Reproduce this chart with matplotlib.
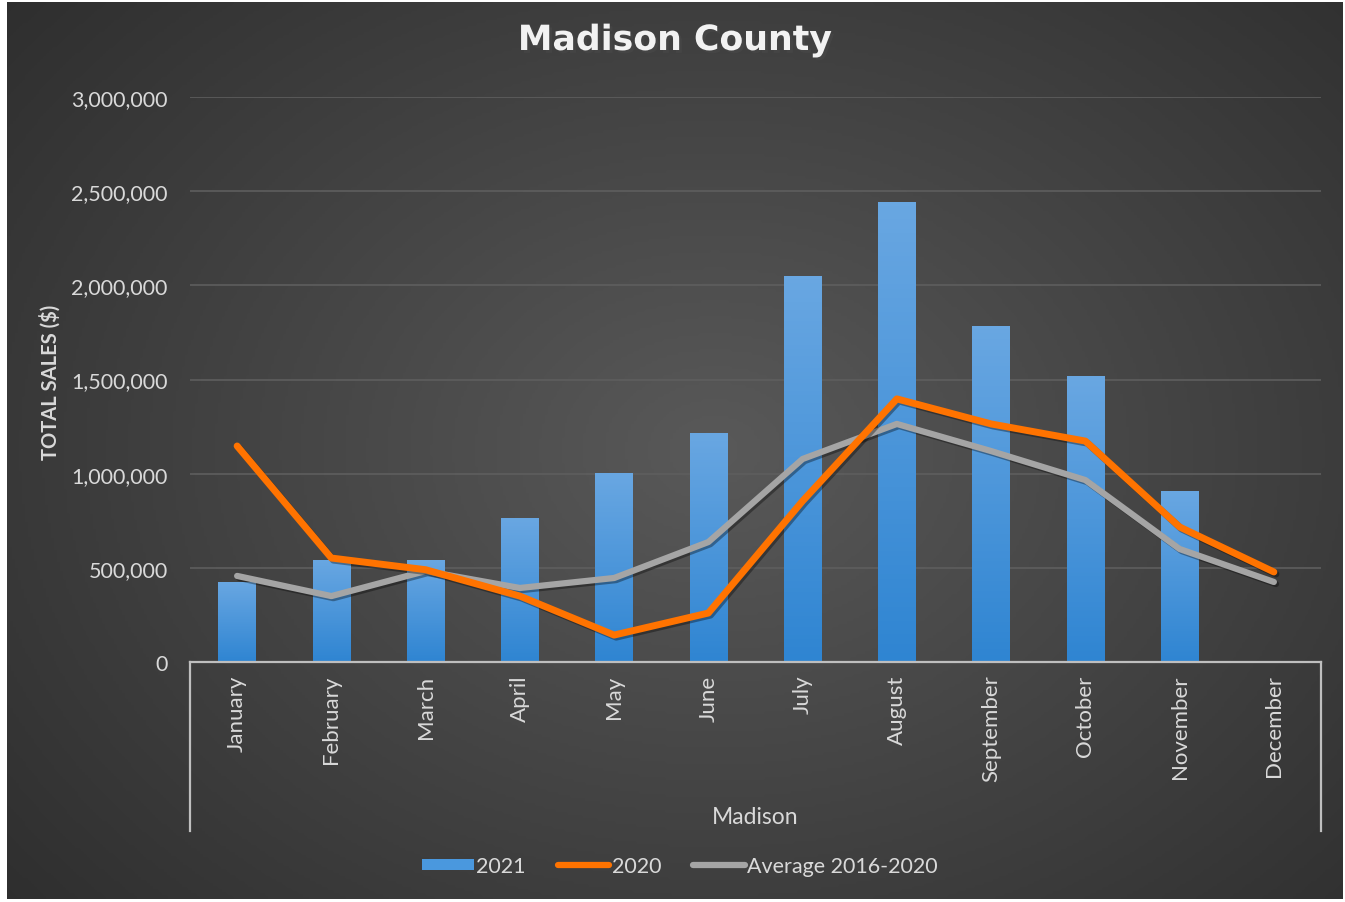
import numpy as np
import matplotlib
matplotlib.use("Agg")
import matplotlib.pyplot as plt
import matplotlib.patheffects as pe
from matplotlib.colors import LinearSegmentedColormap
from matplotlib.patches import Patch
from matplotlib.lines import Line2D

# ===============================
# Data
# ===============================

months = ["January", "February", "March", "April", "May", "June", "July",
          "August", "September", "October", "November", "December"]

sales_2021 = [425000, 542000, 542000, 765000, 1004000, 1216000, 2050000,
              2443000, 1784000, 1519000, 908000, np.nan]

sales_2020 = [1147000, 552000, 490000, 350000, 143000, 260000, 855000,
              1397000, 1264000, 1173000, 717000, 478000]

sales_avg = [457000, 350000, 483000, 393000, 446000, 637000, 1078000,
             1264000, 1120000, 966000, 600000, 425000]

yticks = [0, 500000, 1000000, 1500000, 2000000, 2500000, 3000000]

plt.rcParams['font.family'] = ['Lato', 'DejaVu Sans']

W, H = 1345, 903
fig = plt.figure(figsize=(W / 100, H / 100), dpi=100)
fig.patch.set_facecolor("white")

# ===============================
# Background gradient
# ===============================

bg = fig.add_axes([7 / W, 3 / H, 1336 / W, 897 / H], zorder=-10)
yy, xx = np.mgrid[0:1:300j, 0:1:450j]
r = np.sqrt(((xx - 0.53) / 0.75) ** 2 + ((yy - 0.5) / 0.85) ** 2)
bg_cmap = LinearSegmentedColormap.from_list("bg", ["#595959", "#2b2b2b"])
bg.imshow(r, cmap=bg_cmap, aspect="auto", vmin=0, vmax=1)
bg.axis("off")

# ===============================
# Main axes
# ===============================

ax_l, ax_r, ax_t, ax_b = 190, 1321, 98, 663
ax = fig.add_axes([ax_l / W, (H - ax_b) / H, (ax_r - ax_l) / W, (ax_b - ax_t) / H])
ax.set_facecolor("none")

x = np.arange(len(months))

bars = ax.bar(x, sales_2021, width=0.4, color="#4a98de", zorder=2)

# gradient fill on bars
bar_cmap = LinearSegmentedColormap.from_list("bars", ["#2f85d2", "#69a7e2"])
grad = np.linspace(0, 1, 100).reshape(-1, 1)
for b in bars:
    h = b.get_height()
    if np.isnan(h):
        continue
    im = ax.imshow(grad, cmap=bar_cmap, origin="lower", aspect="auto",
                   extent=[b.get_x(), b.get_x() + b.get_width(), 0, h], zorder=2)
    im.set_clip_path(b)

shadow = [pe.SimpleLineShadow(offset=(1.5, -1.5), alpha=0.35), pe.Normal()]
ax.plot(x, sales_2020, color="#ff7300", lw=5.0, zorder=4, solid_capstyle="round",
        path_effects=shadow)
ax.plot(x, sales_avg, color="#a5a5a5", lw=4.5, zorder=3, solid_capstyle="round",
        path_effects=shadow)

ax.set_xlim(-0.5, len(months) - 0.5)
ax.set_ylim(0, 3000000)
ax.set_yticks(yticks)
ax.set_yticklabels([f"{v:,}" for v in yticks])
ax.yaxis.grid(True, color="#5e5e5e", lw=1.2, zorder=0)
ax.set_axisbelow(True)

ax.set_xticks(x)
ax.set_xticklabels(months, rotation=90, va="top")

ax.tick_params(axis="y", length=0, pad=16, labelsize=15.5, labelcolor="#d9d9d9")
ax.tick_params(axis="x", length=0, pad=9, labelsize=16, labelcolor="#d9d9d9")

for s in ["top", "right", "left"]:
    ax.spines[s].set_visible(False)
ax.spines["bottom"].set_color("#bfbfbf")
ax.spines["bottom"].set_linewidth(1.6)

# group bracket below the axis
for px in (ax_l, ax_r):
    fig.add_artist(Line2D([px / W, px / W], [(H - ax_b) / H, (H - 832) / H],
                          color="#bfbfbf", lw=1.6))

fig.text((ax_l + ax_r) / 2 / W, (H - 818) / H, "Madison", color="#d9d9d9",
         fontsize=16.5, ha="center", va="center")

# ===============================
# Titles
# ===============================

fig.text(675 / W, (H - 41) / H, "Madison County", color="#f2f2f2", fontsize=25,
         fontweight="bold", ha="center", va="center", family="DejaVu Sans",
         path_effects=[pe.withSimplePatchShadow(offset=(2, -2), alpha=0.6)])

fig.text(50 / W, (H - 382) / H, "TOTAL SALES ($)", color="#d9d9d9", fontsize=14.5,
         fontweight="bold", rotation=90, ha="center", va="center")

# ===============================
# Legend
# ===============================

handles = [Patch(facecolor="#4a98de", edgecolor="none"),
           Line2D([], [], color="#ff7300", lw=4.5, solid_capstyle="round"),
           Line2D([], [], color="#a5a5a5", lw=4.5, solid_capstyle="round")]
leg = fig.legend(handles, ["2021", "2020", "Average 2016-2020"],
                 loc="center", bbox_to_anchor=(680 / W, (H - 867) / H),
                 ncol=3, frameon=False, fontsize=15.5, labelcolor="#d9d9d9",
                 handlelength=2.4, handleheight=0.45, handletextpad=0.1,
                 columnspacing=1.5)

fig.savefig("out.png", dpi=100, facecolor=fig.get_facecolor())
